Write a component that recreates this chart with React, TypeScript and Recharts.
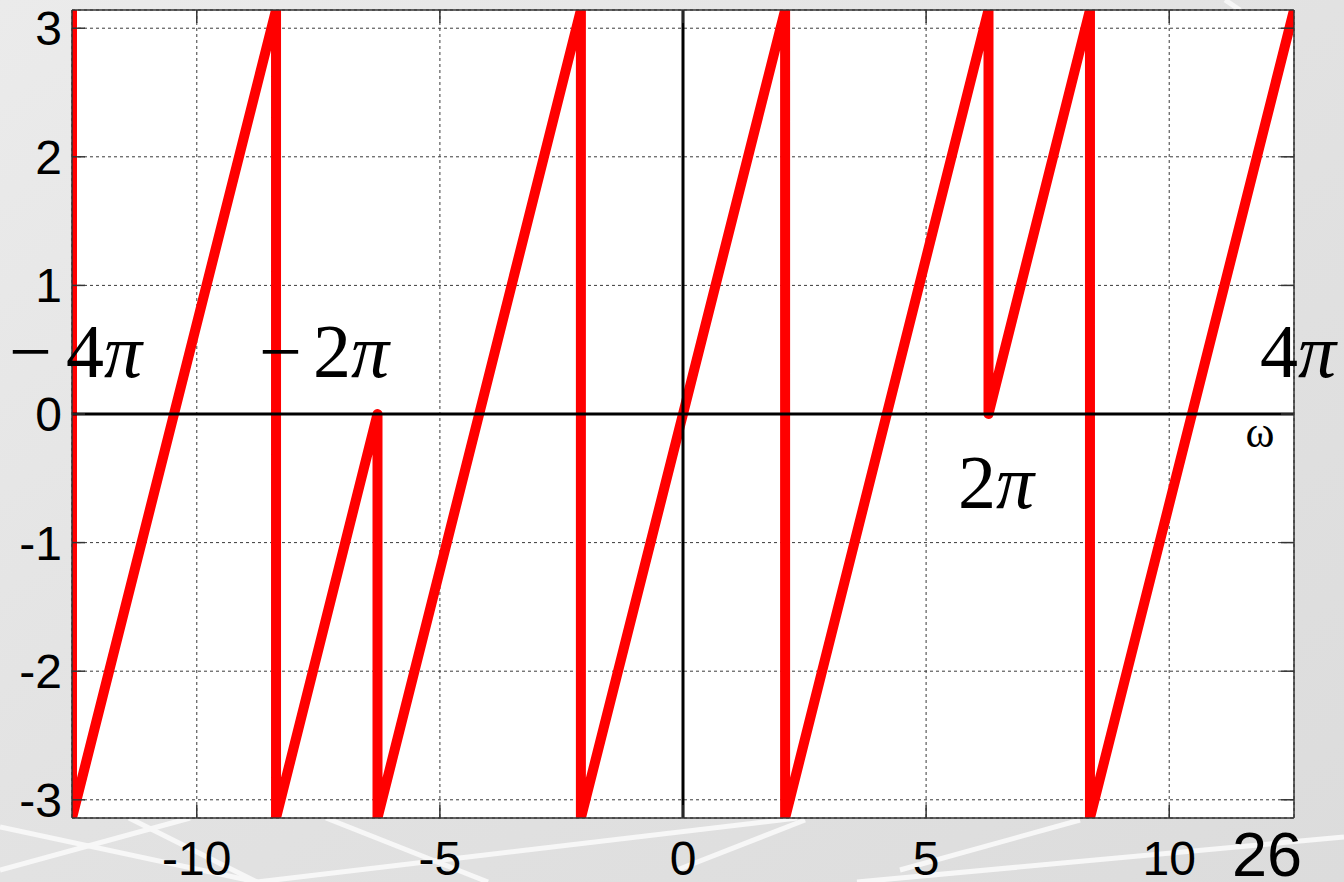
import React from 'react';
import { LineChart, Line, XAxis, YAxis, CartesianGrid, ReferenceLine } from 'recharts';

const PI = Math.PI;

// ω values (x) and wrapped phase values (y), in drawing order
const omega = [-4 * PI, -4 * PI, -8.37, -8.37, -2 * PI, -2 * PI, -2.1, -2.1, 2.1, 2.1, 2 * PI, 2 * PI, 8.37, 8.37, 4 * PI];
const phase = [PI, -PI, PI, -PI, 0, -PI, PI, -PI, PI, -PI, PI, 0, PI, -PI, PI];

const xTicks = [-10, -5, 0, 5, 10];
const yTicks = [-3, -2, -1, 0, 1, 2, 3];

const data = omega.map((w, i) => ({ w, p: phase[i] }));

const W = 1344;
const H = 882;
const tickFont = { fontFamily: '"Liberation Sans", Arial, sans-serif', fontSize: 48, fill: '#000' };
const serif = '"Liberation Serif", "Times New Roman", serif';
const frame = '#333';

function Background() {
  const lines: [number, number, number, number][] = [
    [0, 870, 190, 818],
    [0, 827, 257, 882],
    [129, 818, 257, 882],
    [326, 818, 488, 882],
    [257, 882, 797, 818],
    [677, 870, 805, 820],
    [900, 870, 1080, 820],
    [857, 882, 1344, 837],
    [1225, 0, 1240, 10],
  ];
  return (
    <svg width={W} height={H} style={{ position: 'absolute', left: 0, top: 0 }}>
      <defs>
        <linearGradient id="bg" x1="0" y1="0" x2="1" y2="1">
          <stop offset="0" stopColor="#ebebeb" />
          <stop offset="0.5" stopColor="#e2e2e2" />
          <stop offset="1" stopColor="#dcdcdc" />
        </linearGradient>
      </defs>
      <rect x={0} y={0} width={W} height={H} fill="url(#bg)" />
      {lines.map((l, i) => (
        <line key={i} x1={l[0]} y1={l[1]} x2={l[2]} y2={l[3]} stroke="#f7f7f7" strokeWidth={5} />
      ))}
    </svg>
  );
}

function Overlay() {
  const big = { fontFamily: serif, fontSize: 76, fill: '#000' };
  return (
    <svg width={W} height={H} style={{ position: 'absolute', left: 0, top: 0, pointerEvents: 'none' }}>
      <text {...big} y={377}>
        <tspan x={9}>−</tspan>
        <tspan x={66}>4</tspan>
        <tspan fontStyle="italic">π</tspan>
      </text>
      <text {...big} y={377}>
        <tspan x={259}>−</tspan>
        <tspan x={313}>2</tspan>
        <tspan fontStyle="italic">π</tspan>
      </text>
      <text {...big} y={508}>
        <tspan x={958}>2</tspan>
        <tspan fontStyle="italic">π</tspan>
      </text>
      <text {...big} y={377}>
        <tspan x={1260}>4</tspan>
        <tspan fontStyle="italic">π</tspan>
      </text>
      <text x={1260} y={447} textAnchor="middle" fontFamily={serif} fontSize={44} fill="#000">ω</text>
      <text x={1232} y={876} fontFamily='"Liberation Sans", Arial, sans-serif' fontSize={63} fill="#000">26</text>
    </svg>
  );
}

export default function App() {
  const xDomain: [number, number] = [-4 * PI, 4 * PI];
  const yDomain: [number, number] = [-PI, PI];
  return (
    <div style={{ position: 'absolute', left: 0, top: 0, width: W, height: H, overflow: 'hidden' }}>
      <Background />
      <div style={{ position: 'absolute', left: 0, top: 0 }}>
        <LineChart width={W} height={H} data={data} margin={{ top: 0, right: 0, bottom: 0, left: 0 }}>
          <CartesianGrid stroke="#3a3a3a" strokeDasharray="3 3" fill="#ffffff" fillOpacity={1} />
          <XAxis
            xAxisId={0}
            dataKey="w"
            type="number"
            domain={xDomain}
            ticks={xTicks}
            allowDataOverflow
            height={64}
            tickSize={-13}
            tickMargin={36}
            tick={tickFont}
            axisLine={{ stroke: frame, strokeWidth: 1.5 }}
            tickLine={{ stroke: frame, strokeWidth: 1.5 }}
            interval={0}
          />
          <XAxis
            xAxisId="top"
            orientation="top"
            dataKey="w"
            type="number"
            domain={xDomain}
            ticks={xTicks}
            allowDataOverflow
            height={10}
            tickSize={-13}
            tickFormatter={() => ''}
            axisLine={{ stroke: frame, strokeWidth: 1.5 }}
            tickLine={{ stroke: frame, strokeWidth: 1.5 }}
            interval={0}
          />
          <YAxis
            yAxisId={0}
            type="number"
            domain={yDomain}
            ticks={yTicks}
            allowDataOverflow
            width={72}
            tickSize={-13}
            tickMargin={23}
            tick={tickFont}
            axisLine={{ stroke: frame, strokeWidth: 1.5 }}
            tickLine={{ stroke: frame, strokeWidth: 1.5 }}
            interval={0}
          />
          <YAxis
            yAxisId="right"
            orientation="right"
            type="number"
            domain={yDomain}
            ticks={yTicks}
            allowDataOverflow
            width={50}
            tickSize={-13}
            tickFormatter={() => ''}
            axisLine={{ stroke: frame, strokeWidth: 1.5 }}
            tickLine={{ stroke: frame, strokeWidth: 1.5 }}
            interval={0}
          />
          <Line
            xAxisId={0}
            yAxisId={0}
            dataKey="p"
            stroke="#ff0000"
            strokeWidth={10}
            strokeLinejoin="round"
            dot={false}
            activeDot={false}
            isAnimationActive={false}
            type="linear"
          />
          <ReferenceLine xAxisId={0} yAxisId={0} x={0} stroke="#000" strokeWidth={3} />
          <ReferenceLine xAxisId={0} yAxisId={0} y={0} stroke="#000" strokeWidth={3} />
        </LineChart>
      </div>
      <Overlay />
    </div>
  );
}
